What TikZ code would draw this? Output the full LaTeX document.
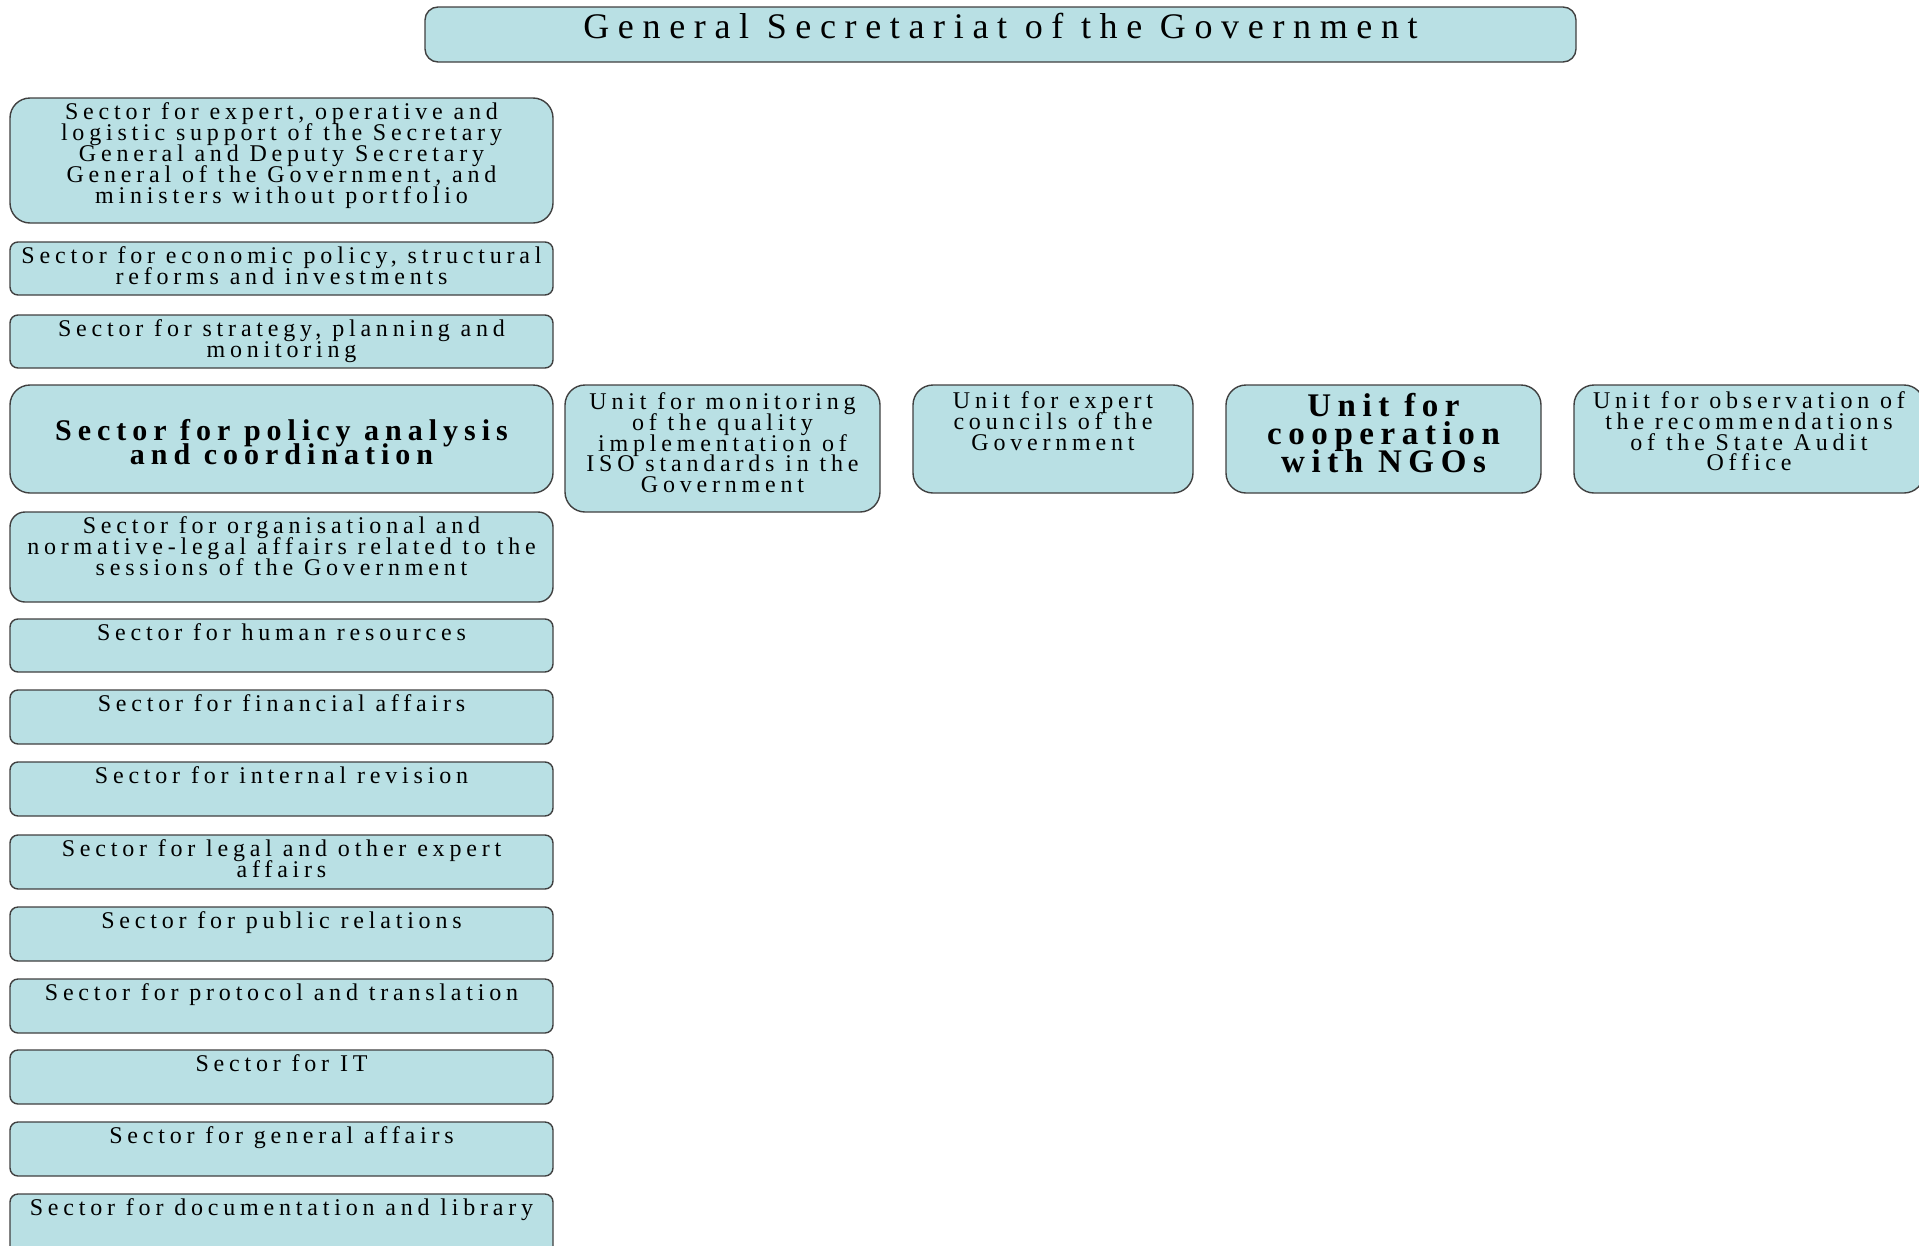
\documentclass[tikz,border=0pt]{standalone}
\usepackage{fontspec}
\setmainfont{Liberation Serif}
\newfontfamily\secfont{Liberation Serif}[LetterSpace=20]
\newfontfamily\titlefont{Liberation Serif}[LetterSpace=24]
\definecolor{boxblue}{RGB}{185,224,228}
\newcommand\tightlines{\setlength{\lineskiplimit}{-30pt}}

\begin{document}
\begin{tikzpicture}[x=1pt,y=-1pt,
  box/.style={draw=black!75,line width=1.4pt,fill=boxblue,inner sep=0pt},
  lbl/.style={font={\secfont\fontsize{24}{20.8}\selectfont\tightlines},align=center,inner sep=0pt},
  bold/.style={font={\secfont\bfseries\fontsize{30}{24.5}\selectfont\tightlines},align=center,inner sep=0pt}]
\clip (0,0) rectangle (1919,1245);
% title
\node[box,rounded corners=13,minimum width=1151,minimum height=55] (gsg) at (1000.5,34.5) {};
\node[inner sep=0pt,font=\titlefont\fontsize{36}{36}\selectfont] (lgsg) at (gsg.center) [yshift=8pt] {General Secretariat of the Government};
% sectors
\foreach \n/\t/\b/\r/\txt in {
  s1/98/223/20/{Sector for expert, operative and\\ logistic support of the Secretary\\ General and Deputy Secretary\\ General of the Government, and\\ ministers without portfolio},
  s2/242/295/8/{Sector for economic policy, structural\\ reforms and investments},
  s3/315/368/8/{Sector for strategy, planning and\\ monitoring},
  s5/512/602/15/{Sector for organisational and\\ normative-legal affairs related to the\\ sessions of the Government},
  s6/619/672/8/{Sector for human resources},
  s7/690/744/8/{Sector for financial affairs},
  s8/762/816/8/{Sector for internal revision},
  s9/835/889/8/{Sector for legal and other expert\\ affairs},
  s10/907/961/8/{Sector for public relations},
  s11/979/1033/8/{Sector for protocol and translation},
  s12/1050/1104/8/{Sector for IT},
  s13/1122/1176/8/{Sector for general affairs},
  s14/1194/1254/8/{Sector for documentation and library}}
{ \node[box,rounded corners=\r,minimum width=543,minimum height={\b-\t}] (\n) at (281.5,{(\t+\b)/2}) {};
  \node[lbl,anchor=north] (l\n) at ([yshift=-5.5pt]\n.north) {\txt};
}
\node[box,rounded corners=20,minimum width=543,minimum height=108] (s4) at (281.5,439) {};
\node[bold] (ls4) at ([yshift=-3pt]s4.center) {Sector for policy analysis\\ and coordination};
% units
\node[box,rounded corners=20,minimum width=315,minimum height=127] (u1) at (722.5,448.5) {};
\node[lbl,anchor=north] (lu1) at ([yshift=-8pt]u1.north) {Unit for monitoring\\ of the quality\\ implementation of\\ ISO standards in the\\ Government};
\node[box,rounded corners=20,minimum width=280,minimum height=108] (u2) at (1053,439) {};
\node[lbl,anchor=north] (lu2) at ([yshift=-7pt]u2.north) {Unit for expert\\ councils of the\\ Government};
\node[box,rounded corners=20,minimum width=315,minimum height=108] (u3) at (1383.5,439) {};
\node[bold,font={\secfont\bfseries\fontsize{33}{28}\selectfont\tightlines}] (lu3) at ([yshift=6pt]u3.center) {Unit for\\ cooperation\\ with NGOs};
\node[box,rounded corners=20,minimum width=350,minimum height=108] (u4) at (1749,439) {};
\node[lbl,anchor=north] (lu4) at ([yshift=-7pt]u4.north) {Unit for observation of\\ the recommendations\\ of the State Audit\\ Office};
\end{tikzpicture}
\end{document}
